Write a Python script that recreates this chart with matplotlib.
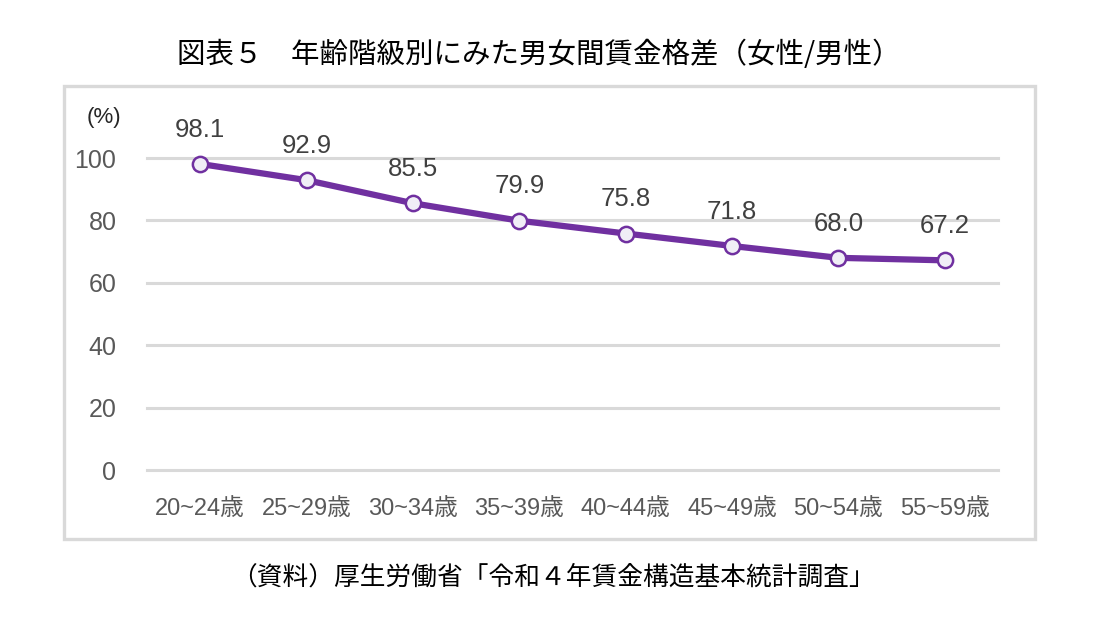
import matplotlib
matplotlib.use('Agg')
import matplotlib.pyplot as plt
from matplotlib.patches import Rectangle

# データ
categories = ['20~24歳', '25~29歳', '30~34歳', '35~39歳', '40~44歳', '45~49歳', '50~54歳', '55~59歳']
ratio = [98.1, 92.9, 85.5, 79.9, 75.8, 71.8, 68.0, 67.2]
yticks = [0, 20, 40, 60, 80, 100]

title = '図表５　年齢階級別にみた男女間賃金格差（女性/男性）'
source = '（資料）厚生労働省「令和４年賃金構造基本統計調査」'

LAT = ['Liberation Sans', 'Noto Sans CJK JP']
JP = ['Noto Sans CJK JP', 'DejaVu Sans']
purple = '#7030A0'

fig = plt.figure(figsize=(11.06, 6.26), dpi=100)

# chart frame
fig.patches.append(Rectangle((64 / 1106, 1 - 539 / 626), (1035 - 64) / 1106, (539 - 86) / 626,
                             transform=fig.transFigure, fill=False,
                             edgecolor='#d9d9d9', linewidth=2.4))

ax = fig.add_axes([147 / 1106, 1 - 470 / 626, (998 - 147) / 1106, (470 - 158) / 626])
x = list(range(len(categories)))
ax.plot(x, ratio, color=purple, linewidth=4.5, marker='o', markersize=11,
        markerfacecolor='#f0eef6', markeredgecolor=purple, markeredgewidth=1.8,
        clip_on=False, zorder=3)

for xi, v in zip(x, ratio):
    ax.annotate(f'{v:.1f}', (xi, v), xytext=(0, 16), textcoords='offset points',
                ha='center', va='bottom', fontsize=18.5, color='#404040', family=LAT)

# gridlines (drawn unclipped so the 0 and 100 lines keep full width)
for t in yticks:
    ax.axhline(t, color='#d9d9d9', linewidth=2.2, clip_on=False, zorder=1)

ax.set_xlim(-0.5, len(categories) - 0.5)
ax.set_ylim(0, 100)
ax.set_yticks(yticks)
ax.set_xticks(x)
ax.set_xticklabels(categories, family=LAT, fontsize=17, color='#595959')
ax.set_yticklabels([str(t) for t in yticks], family=LAT, fontsize=18, color='#595959')
ax.tick_params(length=0, axis='y', pad=22)
ax.tick_params(length=0, axis='x', pad=20)
for s in ax.spines.values():
    s.set_visible(False)

fig.text(104 / 1106, 1 - 117 / 626, '(%)', ha='center', va='center', fontsize=16,
         color='#262626', family=LAT)
fig.text(539 / 1106, 1 - 55 / 626, title, ha='center', va='center', fontsize=20.5,
         color='black', family=JP)
fig.text(553 / 1106, 1 - 578 / 626, source, ha='center', va='center', fontsize=18.5,
         color='black', family=JP)

plt.savefig('out.png', dpi=100)
